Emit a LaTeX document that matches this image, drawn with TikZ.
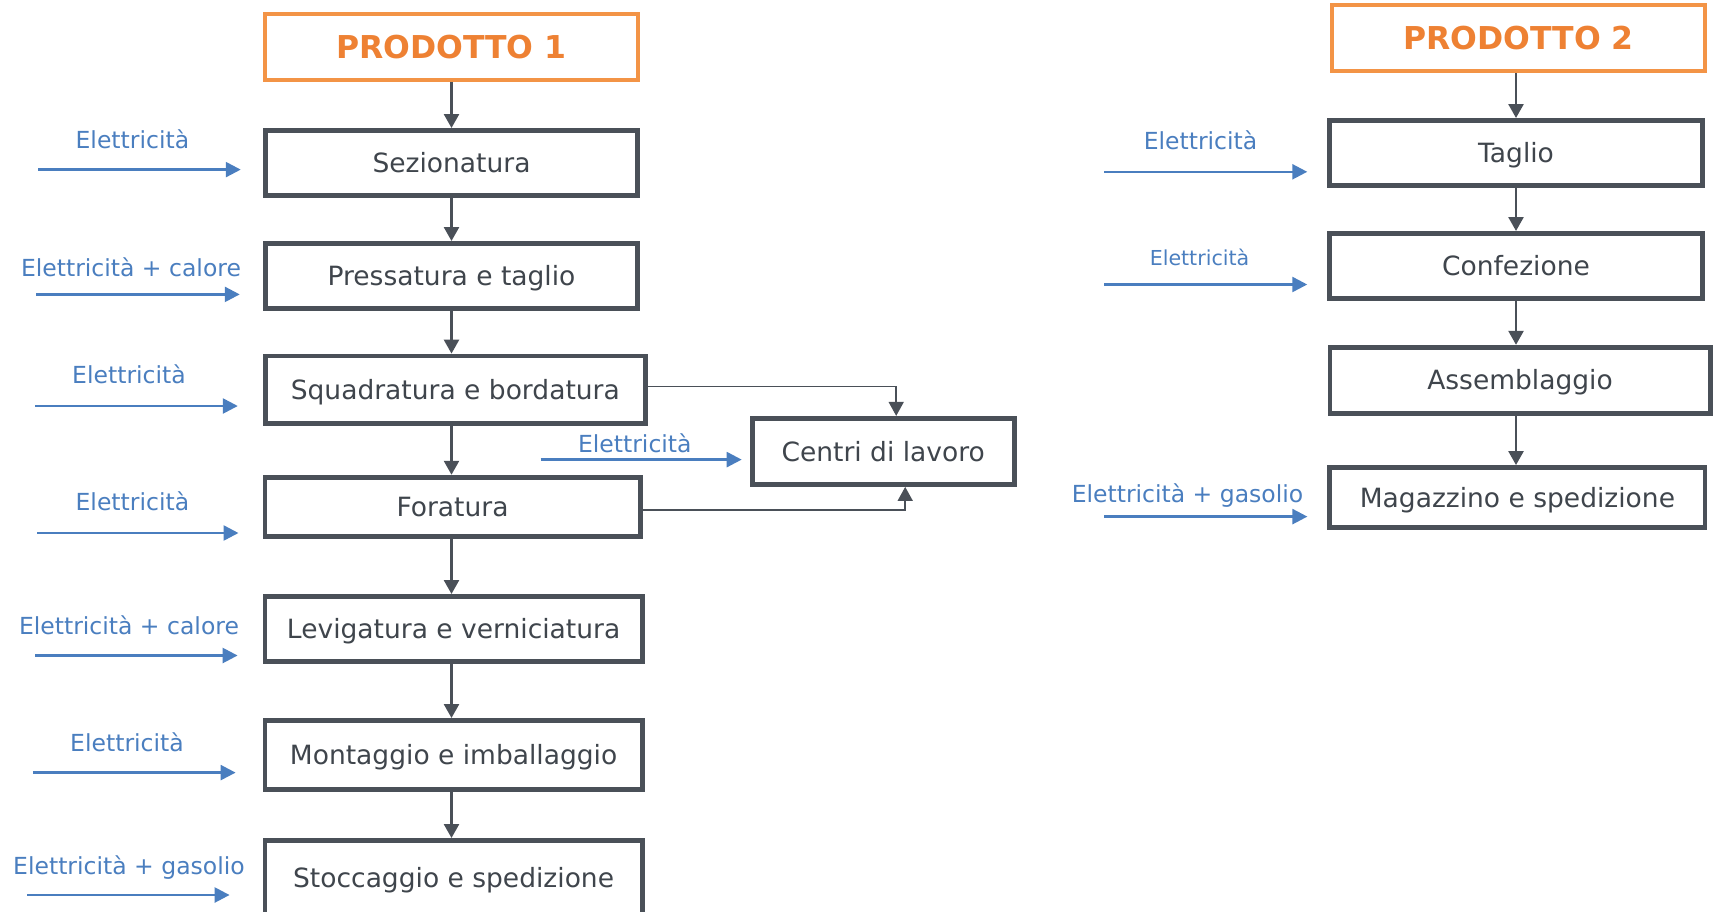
\documentclass[tikz,border=0pt]{standalone}
\usepackage{fontspec}
\setmainfont{DejaVu Sans}
\usetikzlibrary{arrows.meta}

\definecolor{boxgray}{HTML}{4A5058}
\definecolor{txtgray}{HTML}{3F454C}
\definecolor{feedblue}{HTML}{4A7EBF}
\definecolor{prodorange}{HTML}{F39446}
\definecolor{prodtext}{HTML}{EE8133}

\tikzset{
  procbox/.style={draw=boxgray, line width=4.8pt, text=txtgray, fill=white, inner sep=0pt,
    font=\fontsize{26.5}{30}\selectfont, text height=19.3pt, text depth=0pt,
    minimum width=372.7pt, minimum height=65.2pt},
  prodbox/.style={procbox, draw=prodorange, line width=4pt, minimum width=373.5pt, minimum height=66pt,
    text=prodtext, font=\fontsize{31.5}{36}\selectfont\bfseries, text height=23pt},
  flow/.style={draw=boxgray, line width=2.6pt, -{Triangle[length=14pt,width=15pt]}},
  side/.style={flow, line width=1.6pt},
  feed/.style={draw=feedblue, line width=2.5pt, -{Triangle[length=15pt,width=15pt]}},
  feedlabel/.style={text=feedblue, inner sep=0pt, font=\fontsize{23.5}{28}\selectfont,
    text height=17pt, text depth=0pt},
}

\begin{document}
\begin{tikzpicture}[x=1pt, y=-1pt]
\path[use as bounding box, clip] (0,0) rectangle (1716,911);

% prodotto 1
\node[prodbox] (prod1) at (451.5,47) {PRODOTTO 1};
\node[procbox] (sez) at (451.5,163) {Sezionatura};
\node[procbox] (press) at (451.5,276) {Pressatura e taglio};
\node[procbox, minimum width=380.2pt, minimum height=67.2pt] (squad) at (455.3,389.6) {Squadratura e bordatura};
\node[procbox, minimum width=375.2pt, minimum height=59.7pt] (fora) at (452.5,507) {Foratura};
\node[procbox, minimum width=377.2pt] (levig) at (453.6,629) {Levigatura e verniciatura};
\node[procbox, minimum width=377.2pt, minimum height=69.2pt] (mont) at (453.6,755) {Montaggio e imballaggio};
\node[procbox, minimum width=377.2pt, minimum height=75.2pt] (stocc) at (453.6,878) {Stoccaggio e spedizione};
\node[procbox, minimum width=262.2pt, minimum height=66.2pt] (centri) at (883.2,451.4) {Centri di lavoro};

% prodotto 2
\node[prodbox] (prod2) at (1518.5,38.3) {PRODOTTO 2};
\node[procbox] (taglio) at (1516,153) {Taglio};
\node[procbox] (conf) at (1516,266) {Confezione};
\node[procbox, minimum width=380.2pt, minimum height=66.2pt] (ass) at (1520,380.3) {Assemblaggio};
\node[procbox, minimum width=375.2pt, minimum height=59.9pt] (mag) at (1517.4,497.4) {Magazzino e spedizione};

% process flow
\foreach \a/\b in {prod1/sez, sez/press, press/squad, squad/fora, fora/levig, levig/mont, mont/stocc}
  \draw[flow] (\a.south -| prod1) -- (\b.north -| prod1);
\foreach \a/\b in {prod2/taglio, taglio/conf, conf/ass, ass/mag}
  \draw[flow] (\a.south -| taglio) -- (\b.north -| taglio);

\draw[side] ([yshift=3pt]squad.east) -| ([xshift=13pt]centri.north);
\draw[side] ([yshift=-3pt]fora.east) -| ([xshift=22pt]centri.south);

% energy inputs
\foreach \tgt/\tx/\ty/\gap/\lx/\ly/\txt in {
  sez/38.3/169.6/22/132.4/140/Elettricità,
  press/36/294.4/23/131/268/Elettricità + calore,
  squad/35/406/25/129/375.4/Elettricità,
  fora/37.2/533/24/132.4/502.3/Elettricità,
  levig/35/655.5/25/129/626/Elettricità + calore,
  mont/32.8/772.6/27/127/743/Elettricità,
  stocc/27.4/895/33/129/865.6/Elettricità + gasolio,
  centri/540.6/459.6/8/634.8/444.3/Elettricità,
  taglio/1104.3/171.8/20/1200.5/141/Elettricità,
  mag/1104.3/516.6/20/1187.5/493.6/Elettricità + gasolio}
{
  \coordinate (in-\tgt) at (\tx,\ty);
  \draw[feed, shorten >=\gap pt] (in-\tgt) -- (in-\tgt -| \tgt.west);
  \node[feedlabel] (lab-\tgt) at (\lx,\ly) {\txt};
}
\coordinate (in-conf) at (1104.3,284.5);
\draw[feed, shorten >=20pt] (in-conf) -- (in-conf -| conf.west);
\node[feedlabel, font=\fontsize{20.6}{24}\selectfont, text height=15pt] (lab-conf) at (1199.5,258.3) {Elettricità};
\end{tikzpicture}
\end{document}
